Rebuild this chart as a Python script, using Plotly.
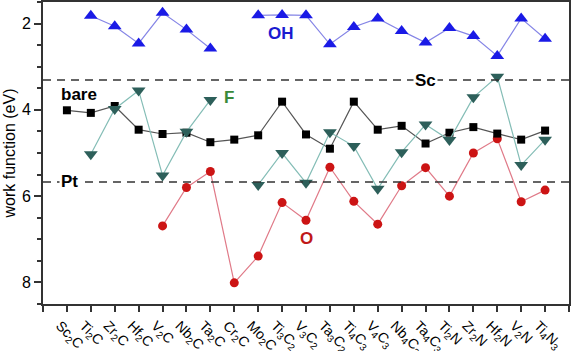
import plotly.graph_objects as go

categories = ["Sc<sub>2</sub>C", "Ti<sub>2</sub>C", "Zr<sub>2</sub>C", "Hf<sub>2</sub>C", "V<sub>2</sub>C",
              "Nb<sub>2</sub>C", "Ta<sub>2</sub>C", "Cr<sub>2</sub>C", "Mo<sub>2</sub>C", "Ti<sub>3</sub>C<sub>2</sub>",
              "V<sub>3</sub>C<sub>2</sub>", "Ta<sub>3</sub>C<sub>2</sub>", "Ti<sub>4</sub>C<sub>3</sub>", "V<sub>4</sub>C<sub>3</sub>",
              "Nb<sub>4</sub>C<sub>3</sub>", "Ta<sub>4</sub>C<sub>3</sub>", "Ti<sub>2</sub>N", "Zr<sub>2</sub>N",
              "Hf<sub>2</sub>N", "V<sub>2</sub>N", "Ti<sub>4</sub>N<sub>3</sub>"]

bare = [4.01, 4.07, 3.91, 4.46, 4.56, 4.53, 4.75, 4.69, 4.59, 3.81,
        4.57, 4.90, 3.81, 4.46, 4.37, 4.78, 4.53, 4.40, 4.55, 4.69, 4.48]
oh = [None, 1.82, 2.06, 2.46, 1.75, 2.14, 2.58, None, 1.81, 1.80,
      1.81, 2.48, 2.08, 1.88, 2.17, 2.44, 2.10, 2.29, 2.75, 1.88, 2.35]
f = [None, 5.03, 3.98, 3.55, 5.52, 4.51, 3.77, None, 5.74, 5.00,
     5.69, 4.52, 4.84, 5.83, 4.98, 4.34, 4.70, 3.71, 3.23, 5.28, 4.69]
o = [None, None, None, None, 6.69, 5.80, 5.43, 8.01, 7.39, 6.15,
     6.56, 5.33, 6.12, 6.65, 5.76, 5.34, 6.00, 5.00, 4.67, 6.13, 5.86]

sc_level = 3.31
pt_level = 5.67

x = list(range(len(categories)))
fig = go.Figure()

fig.add_hline(y=sc_level, line=dict(color="#333333", width=1.5, dash="8px,6px"))
fig.add_hline(y=pt_level, line=dict(color="#333333", width=1.5, dash="8px,6px"))

fig.add_trace(go.Scatter(x=x, y=o, mode="lines+markers", connectgaps=False,
                         line=dict(color="#e07a88", width=1.2),
                         marker=dict(symbol="circle", size=9, color="#cc1414")))
fig.add_trace(go.Scatter(x=x, y=bare, mode="lines+markers", connectgaps=False,
                         line=dict(color="#555555", width=1.2),
                         marker=dict(symbol="square", size=8, color="black")))
fig.add_trace(go.Scatter(x=x, y=f, mode="lines+markers", connectgaps=False,
                         line=dict(color="#84bdb6", width=1.2),
                         marker=dict(symbol="triangle-down", size=12, color="#2d5f5a")))
fig.add_trace(go.Scatter(x=x, y=oh, mode="lines+markers", connectgaps=False,
                         line=dict(color="#8585e6", width=1.2),
                         marker=dict(symbol="triangle-up", size=12, color="#1a1ae6")))

lab_font = dict(family="Liberation Sans, Arial", size=17)
fig.add_annotation(x=15.0, y=sc_level, text="<b>Sc</b>", showarrow=False, bgcolor="white",
                   font=dict(lab_font, color="black"))
fig.add_annotation(x=0.09, y=pt_level, text="<b>Pt</b>", showarrow=False, bgcolor="white",
                   font=dict(lab_font, color="black"))
fig.add_annotation(x=0.5, y=3.65, text="<b>bare</b>", showarrow=False,
                   font=dict(lab_font, color="black"))
fig.add_annotation(x=6.78, y=3.72, text="<b>F</b>", showarrow=False,
                   font=dict(lab_font, color="#3a8a3a"))
fig.add_annotation(x=8.96, y=2.22, text="<b>OH</b>", showarrow=False,
                   font=dict(lab_font, color="#1a1ad0"))
fig.add_annotation(x=10.0, y=6.99, text="<b>O</b>", showarrow=False,
                   font=dict(lab_font, color="#c01818"))

tickvals = list(range(-1, len(categories) + 1))
ticktext = [""] + categories + [""]

fig.update_layout(
    width=573, height=351,
    margin=dict(l=43, r=4, t=2, b=47),
    plot_bgcolor="white", paper_bgcolor="white",
    showlegend=False,
    font=dict(family="Liberation Sans, Arial", size=14, color="black"),
)
fig.update_xaxes(range=[-1, 21], tickvals=tickvals, ticktext=ticktext, tickangle=45,
                 showgrid=False, zeroline=False, showline=True, linecolor="#333333", linewidth=2,
                 mirror=True, ticks="outside", ticklen=6, tickwidth=1.5, tickcolor="#333333",
                 tickfont=dict(size=14), ticklabelshift=-7, automargin=False)
fig.update_yaxes(range=[8.5, 1.5], tickvals=[2, 4, 6, 8], showgrid=False, zeroline=False,
                 showline=True, linecolor="#333333", linewidth=2, mirror=True,
                 ticks="outside", ticklen=7, tickwidth=1.5, tickcolor="#333333",
                 minor=dict(dtick=0.5, tick0=0, ticks="outside", ticklen=4, tickcolor="#333333", tickwidth=1.5),
                 title=dict(text="work function (eV)", standoff=2, font=dict(size=16)),
                 tickfont=dict(size=16), automargin=False)

fig.write_html("out.html")
